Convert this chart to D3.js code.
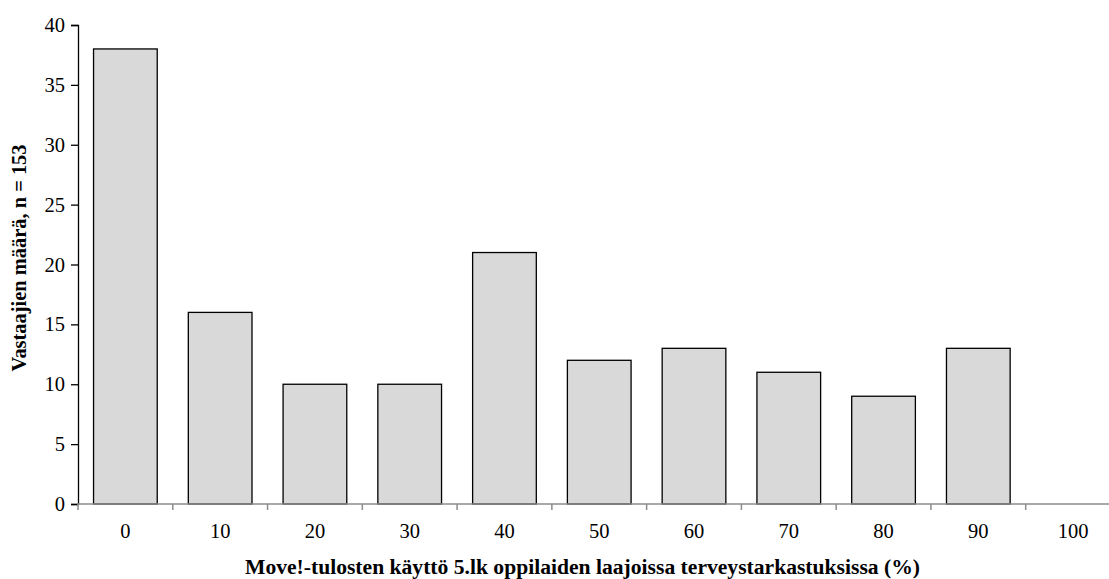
<!DOCTYPE html>
<html>
<head>
<meta charset="utf-8">
<script src="https://cdn.jsdelivr.net/npm/d3@7"></script>
<style>
  body { margin: 0; background: #fff; }
  svg { display: block; font-family: "Liberation Serif", "Times New Roman", serif; }
</style>
</head>
<body>
<svg id="chart" width="1109" height="579"></svg>
<script>
// data
const categories = ['0', '10', '20', '30', '40', '50', '60', '70', '80', '90', '100'];
const counts = [38, 16, 10, 10, 21, 12, 13, 11, 9, 13, 0];
const yTicks = [0, 5, 10, 15, 20, 25, 30, 35, 40];

const svg = d3.select('#chart');
const plotLeft = 78, plotTop = 25, plotBottom = 504;
const bandW = 94.77;

const xScale = d3.scaleBand()
    .domain(categories)
    .range([plotLeft, plotLeft + bandW * categories.length])
    .paddingInner(0.328)
    .paddingOuter(0.164);

const yScale = d3.scaleLinear()
    .domain([0, 40])
    .range([plotBottom, plotTop]);

// bars
svg.selectAll('.bar')
    .data(categories.map((c, i) => ({cat: c, v: counts[i]})).filter(d => d.v > 0))
    .enter()
    .append('rect')
    .attr('class', 'bar')
    .attr('x', d => xScale(d.cat))
    .attr('y', d => yScale(d.v))
    .attr('width', xScale.bandwidth())
    .attr('height', d => yScale(0) - yScale(d.v))
    .attr('fill', '#d9d9d9')
    .attr('stroke', '#000')
    .attr('stroke-width', 1.3);

// y axis
const yAxis = d3.axisLeft(yScale).tickValues(yTicks).tickSize(7).tickPadding(6);
const gy = svg.append('g')
    .attr('transform', `translate(${plotLeft},0)`)
    .call(yAxis);
gy.select('.domain').attr('stroke', '#000').attr('stroke-width', 1.3);
gy.selectAll('.tick line').attr('stroke', '#000').attr('stroke-width', 1.3);
gy.selectAll('.tick text')
    .style('font-family', '"Liberation Serif", serif')
    .style('font-size', '20.5px')
    .attr('fill', '#000');

// x axis: ticks sit at the band boundaries
const xAxis = svg.append('g').attr('transform', `translate(0,${plotBottom})`);
xAxis.append('line')
    .attr('x1', plotLeft).attr('x2', plotLeft + bandW * categories.length)
    .attr('y1', 0).attr('y2', 0)
    .attr('stroke', '#8c8c8c').attr('stroke-width', 1.5);
xAxis.selectAll('.xtick')
    .data(d3.range(categories.length))
    .enter()
    .append('line')
    .attr('x1', i => xScale(categories[i]) - xScale.step() * xScale.paddingOuter())
    .attr('x2', i => xScale(categories[i]) - xScale.step() * xScale.paddingOuter())
    .attr('y1', 0).attr('y2', 6)
    .attr('stroke', '#8c8c8c').attr('stroke-width', 1.5);
xAxis.selectAll('.xlabel')
    .data(categories)
    .enter()
    .append('text')
    .attr('x', d => xScale(d) + xScale.bandwidth() / 2)
    .attr('y', 34)
    .attr('text-anchor', 'middle')
    .style('font-size', '20.5px')
    .text(d => d);

// axis titles
svg.append('text')
    .attr('x', 582.5)
    .attr('y', 574)
    .attr('text-anchor', 'middle')
    .attr('textLength', 675)
    .attr('lengthAdjust', 'spacingAndGlyphs')
    .style('font-size', '20px')
    .style('font-weight', 'bold')
    .text('Move!-tulosten käyttö 5.lk oppilaiden laajoissa terveystarkastuksissa (%)');

svg.append('text')
    .attr('transform', 'translate(26,258) rotate(-90)')
    .attr('text-anchor', 'middle')
    .attr('textLength', 227)
    .attr('lengthAdjust', 'spacingAndGlyphs')
    .style('font-size', '20px')
    .style('font-weight', 'bold')
    .text('Vastaajien määrä, n = 153');
</script>
</body>
</html>
